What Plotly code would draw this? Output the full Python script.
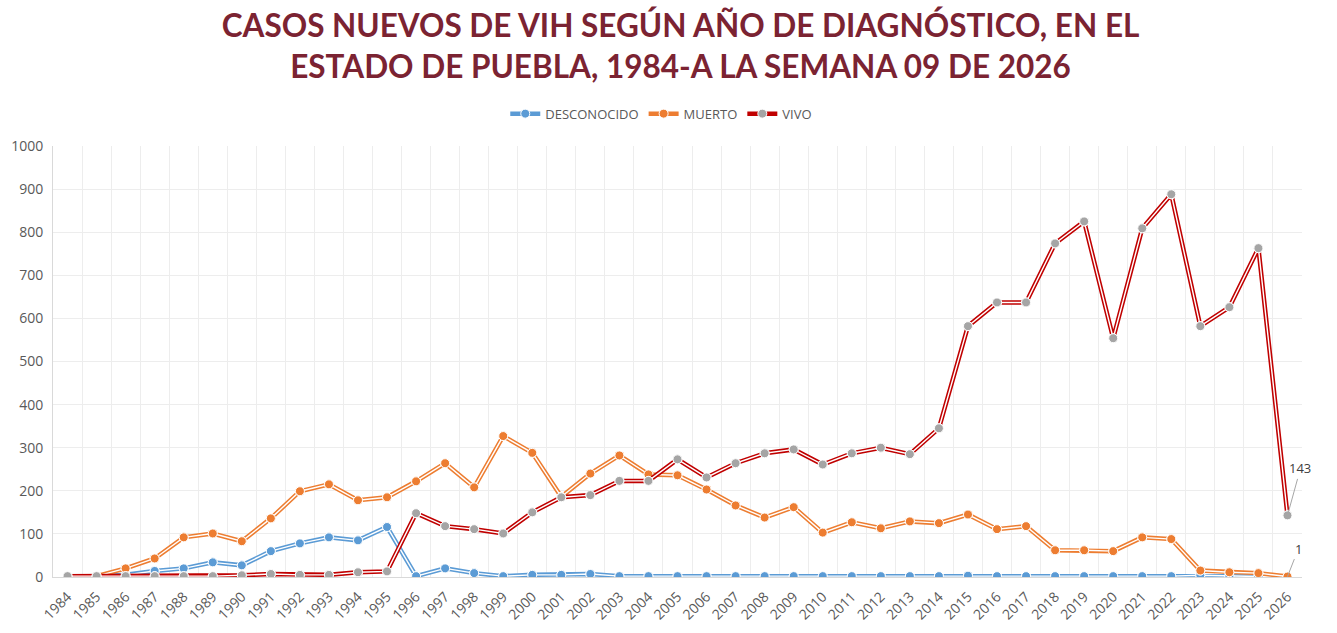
import plotly.graph_objects as go

# Casos nuevos de VIH por año de diagnóstico, Puebla
years = list(range(1984, 2027))

desconocido = [0, 1, 5, 14, 20, 34, 27, 60, 78, 92, 85, 116, 2, 20, 9, 2, 5, 5, 7, 2,
               2, 2, 2, 2, 2, 2, 2, 2, 2, 2, 2, 3, 2, 2, 2, 2, 2, 2, 2, 4, 2, 1, 0]
muerto = [0, 2, 20, 43, 92, 101, 83, 136, 199, 215, 178, 185, 222, 264, 208, 327, 288, 186,
          240, 282, 238, 236, 203, 166, 138, 162, 103, 127, 113, 129, 125, 145, 111, 118,
          62, 62, 60, 92, 88, 15, 11, 9, 1]
vivo = [2, 2, 2, 2, 2, 2, 4, 7, 5, 5, 11, 13, 148, 118, 111, 101, 150, 185, 190, 223,
        223, 273, 231, 264, 287, 296, 261, 287, 300, 285, 345, 582, 637, 637, 774, 825,
        554, 809, 888, 582, 626, 763, 143]

series = [
    ("DESCONOCIDO", desconocido, "#5B9BD5", "#5B9BD5"),
    ("MUERTO", muerto, "#ED7D31", "#ED7D31"),
    ("VIVO", vivo, "#C00000", "#A5A5A5"),
]

fig = go.Figure()

for name, vals, line_col, mark_col in series:
    # línea doble: trazo grueso de color + trazo blanco fino encima
    fig.add_trace(go.Scatter(x=years, y=vals, mode="lines+markers", name=name,
                             line=dict(color=line_col, width=4.5),
                             marker=dict(color=mark_col, size=9, line=dict(color="white", width=1)),
                             hoverinfo="skip"))
    fig.add_trace(go.Scatter(x=years, y=vals, mode="lines", showlegend=False,
                             line=dict(color="white", width=1.4), hoverinfo="skip"))
    fig.add_trace(go.Scatter(x=years, y=vals, mode="markers", showlegend=False,
                             marker=dict(color=mark_col, size=9, line=dict(color="white", width=1)),
                             hoverinfo="skip"))

# etiquetas del último año
fig.add_annotation(x=years[-1], y=vivo[-1], text=str(vivo[-1]), showarrow=True,
                   arrowhead=0, arrowwidth=1, arrowcolor="#A6A6A6", ax=13, ay=-47,
                   font=dict(family="Open Sans", size=13, color="#404040"))
fig.add_annotation(x=years[-1], y=muerto[-1], text=str(muerto[-1]), showarrow=True,
                   arrowhead=0, arrowwidth=1, arrowcolor="#A6A6A6", ax=11, ay=-28,
                   font=dict(family="Open Sans", size=13, color="#404040"))

fig.update_layout(
    width=1337, height=633,
    paper_bgcolor="white", plot_bgcolor="white",
    margin=dict(l=53, r=35, t=146, b=56),
    title=dict(text="CASOS NUEVOS DE VIH SEGÚN AÑO DE DIAGNÓSTICO, EN EL<br>ESTADO DE PUEBLA, 1984-A LA SEMANA 09 DE 2026",
               x=0.509, xanchor="center", yref="container", y=0.942, yanchor="middle",
               font=dict(family="Lato", size=31.5, color="#7B2332", weight="bold")),
    legend=dict(orientation="h", x=0.487, xanchor="center", y=1.075, yanchor="middle",
                font=dict(family="Open Sans", size=13, color="#595959"),
                itemwidth=30, traceorder="normal"),
    showlegend=True,
)

fig.update_xaxes(range=[1983.5, 2026.5], tickmode="array", tickvals=years,
                 ticktext=[str(y) for y in years], tickangle=-45,
                 tickfont=dict(family="Open Sans", size=14, color="#595959"),
                 ticklabelstandoff=5, automargin=False,
                 showgrid=False, showline=True, linecolor="#D9D9D9", linewidth=1,
                 ticks="", zeroline=False,
                 minor=dict(tick0=1983.5, dtick=1, showgrid=True, gridcolor="#EDEDED", gridwidth=1))
fig.update_yaxes(range=[0, 1000], dtick=100, showgrid=True, gridcolor="#EDEDED",
                 tickfont=dict(family="Open Sans", size=14, color="#595959"),
                 ticklabelstandoff=6, automargin=False,
                 showline=True, linecolor="#D9D9D9", linewidth=1, zeroline=False, ticks="")

fig.write_html("out.html", config={"displayModeBar": False},
               post_script="document.body.style.margin='0';")
